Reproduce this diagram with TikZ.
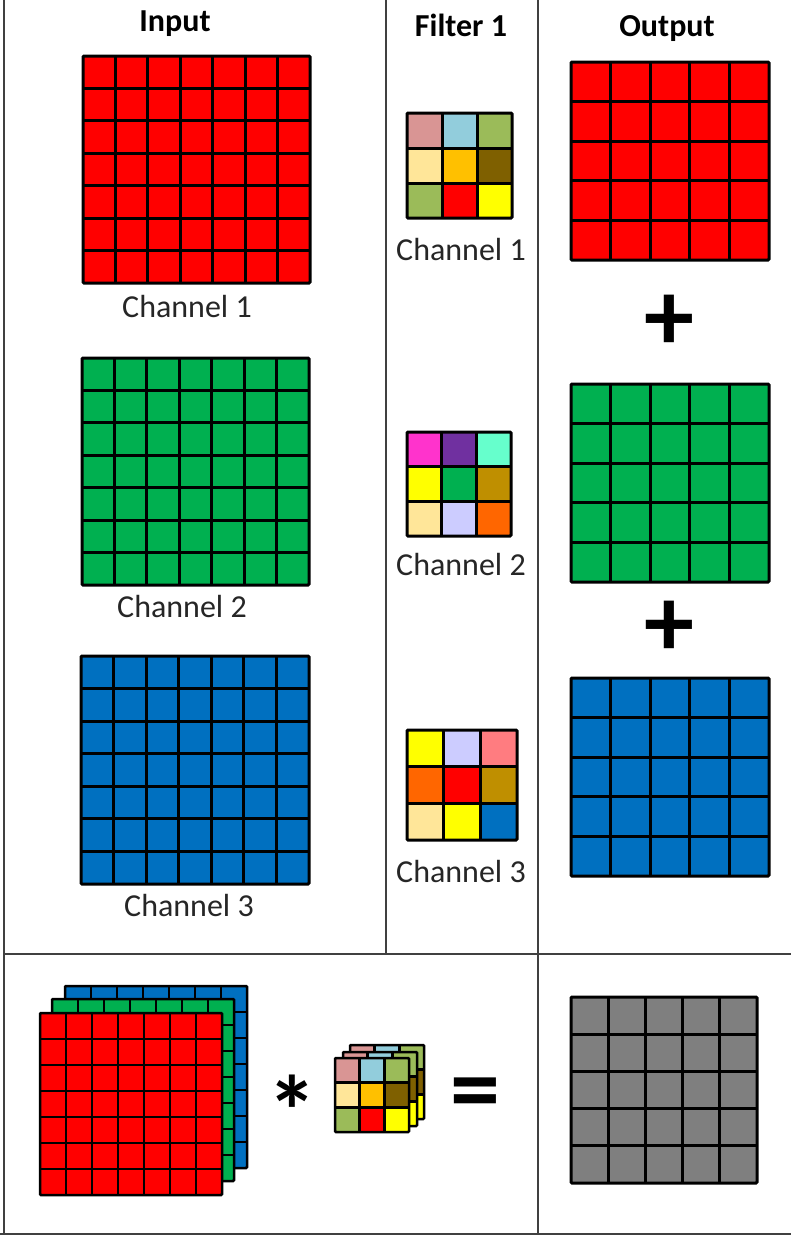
\documentclass[tikz,border=0pt]{standalone}
\usepackage{fontspec}
\setmainfont{Carlito}
\definecolor{cRed}{HTML}{FF0000}
\definecolor{cGreen}{HTML}{00B050}
\definecolor{cBlue}{HTML}{0070C0}
\definecolor{cGray}{HTML}{7F7F7F}
\definecolor{cRose}{HTML}{D99594}
\definecolor{cSky}{HTML}{92CDDC}
\definecolor{cOlive}{HTML}{9BBB59}
\definecolor{cPeach}{HTML}{FFE699}
\definecolor{cGold}{HTML}{FFC000}
\definecolor{cBrown}{HTML}{7F6000}
\definecolor{cYellow}{HTML}{FFFF00}
\definecolor{cMagenta}{HTML}{FF33CC}
\definecolor{cPurple}{HTML}{7030A0}
\definecolor{cAqua}{HTML}{66FFCC}
\definecolor{cDarkGold}{HTML}{BF8F00}
\definecolor{cLav}{HTML}{CCCCFF}
\definecolor{cOrange}{HTML}{FF6600}
\definecolor{cSalmon}{HTML}{FF7C80}
\definecolor{cFrame}{HTML}{404040}
\newcommand\sqgrid[6]{%
  \fill[#5] (#1,#2) rectangle ++(#3,#3);
  \pgfmathsetmacro\gcs{#3/#4}
  \pgfmathtruncatemacro\gnm{#4-1}
  \foreach \i in {1,...,\gnm} {
    \draw[line width=#6] ({#1+\i*\gcs},#2) -- ++(0,#3);
    \draw[line width=#6] (#1,{#2+\i*\gcs}) -- ++(#3,0);
  }
  \draw[line width=#6, rounded corners=1pt] (#1,#2) rectangle ++(#3,#3);
}
\newcommand\fgrid[5]{%
  \pgfmathsetmacro\gcs{#3/3}
  \foreach \fc [count=\k from 0] in {#4} {
    \pgfmathtruncatemacro\rr{\k/3}
    \pgfmathtruncatemacro\ccol{mod(\k,3)}
    \fill[\fc] ({#1+\ccol*\gcs},{#2+\rr*\gcs}) rectangle ++(\gcs,\gcs);
  }
  \foreach \i in {1,2} {
    \draw[line width=#5] ({#1+\i*\gcs},#2) -- ++(0,#3);
    \draw[line width=#5] (#1,{#2+\i*\gcs}) -- ++(#3,0);
  }
  \draw[line width=#5, rounded corners=1pt] (#1,#2) rectangle ++(#3,#3);
}
\tikzset{
  frameline/.style={draw=cFrame, line width=1.5pt},
  header/.style={font=\fontsize{32}{36}\selectfont\bfseries, anchor=base, inner sep=0pt},
  chlabel/.style={font=\fontsize{32}{36}\selectfont, text=black!85, anchor=base, inner sep=0pt},
  opsym/.style={font=\fontsize{100}{100}\selectfont\bfseries, anchor=base, inner sep=0pt}
}
\begin{document}
\begin{tikzpicture}[x=1pt,y=-1pt]
\useasboundingbox (0,0) rectangle (791,1237);
\fill[white] (0,0) rectangle (791,1237);
% frame
\draw[frameline] (4,0) -- (4,1234);
\draw[frameline] (386,0) -- (386,954);
\draw[frameline] (538,0) -- (538,1234);
\draw[frameline] (4,954) -- (791,954);
\draw[frameline] (0,1234) -- (791,1234);
% headers
\node[header] (hin) at (175,31) {Input};
\node[header] (hfi) at (461,36) {Filter 1};
\node[header] (hout) at (667,36) {Output};
% input channels
\sqgrid{83}{56}{227}{7}{cRed}{3}
\sqgrid{82}{358}{227}{7}{cGreen}{3}
\sqgrid{81}{656}{228}{7}{cBlue}{3}
\node[chlabel] (lin1) at (187,317) {Channel 1};
\node[chlabel] (lin2) at (182,617) {Channel 2};
\node[chlabel] (lin3) at (189,916) {Channel 3};
% filters
\fgrid{407}{113}{105}{cRose,cSky,cOlive,cPeach,cGold,cBrown,cOlive,cRed,cYellow}{3}
\fgrid{407}{432}{104}{cMagenta,cPurple,cAqua,cYellow,cGreen,cDarkGold,cPeach,cLav,cOrange}{3}
\fgrid{407}{730}{110}{cYellow,cLav,cSalmon,cOrange,cRed,cDarkGold,cPeach,cYellow,cBlue}{3}
\node[chlabel] (lf1) at (461,260) {Channel 1};
\node[chlabel] (lf2) at (461,575) {Channel 2};
\node[chlabel] (lf3) at (461,882) {Channel 3};
% outputs
\sqgrid{571}{62}{198}{5}{cRed}{3}
\sqgrid{571}{384}{198}{5}{cGreen}{3}
\sqgrid{571}{678}{198}{5}{cBlue}{3}
\node[opsym] (plus1) at (669,350) {+};
\node[opsym] (plus2) at (669,656) {+};
% bottom row
\sqgrid{65}{986}{182}{7}{cBlue}{2.5}
\sqgrid{52}{999}{182}{7}{cGreen}{2.5}
\sqgrid{40}{1013}{182}{7}{cRed}{2.5}
\node[opsym] (star) at (292,1146) {*};
\fgrid{350}{1045}{74}{cRose,cSky,cOlive,cPeach,cGold,cBrown,cOlive,cRed,cYellow}{2.5}
\fgrid{343}{1052}{74}{cRose,cSky,cOlive,cPeach,cGold,cBrown,cOlive,cRed,cYellow}{2.5}
\fgrid{335}{1058}{74}{cRose,cSky,cOlive,cPeach,cGold,cBrown,cOlive,cRed,cYellow}{2.5}
\node[opsym] (eq) at (475,1122) {=};
\sqgrid{571}{997}{186}{5}{cGray}{3}
\end{tikzpicture}
\end{document}
